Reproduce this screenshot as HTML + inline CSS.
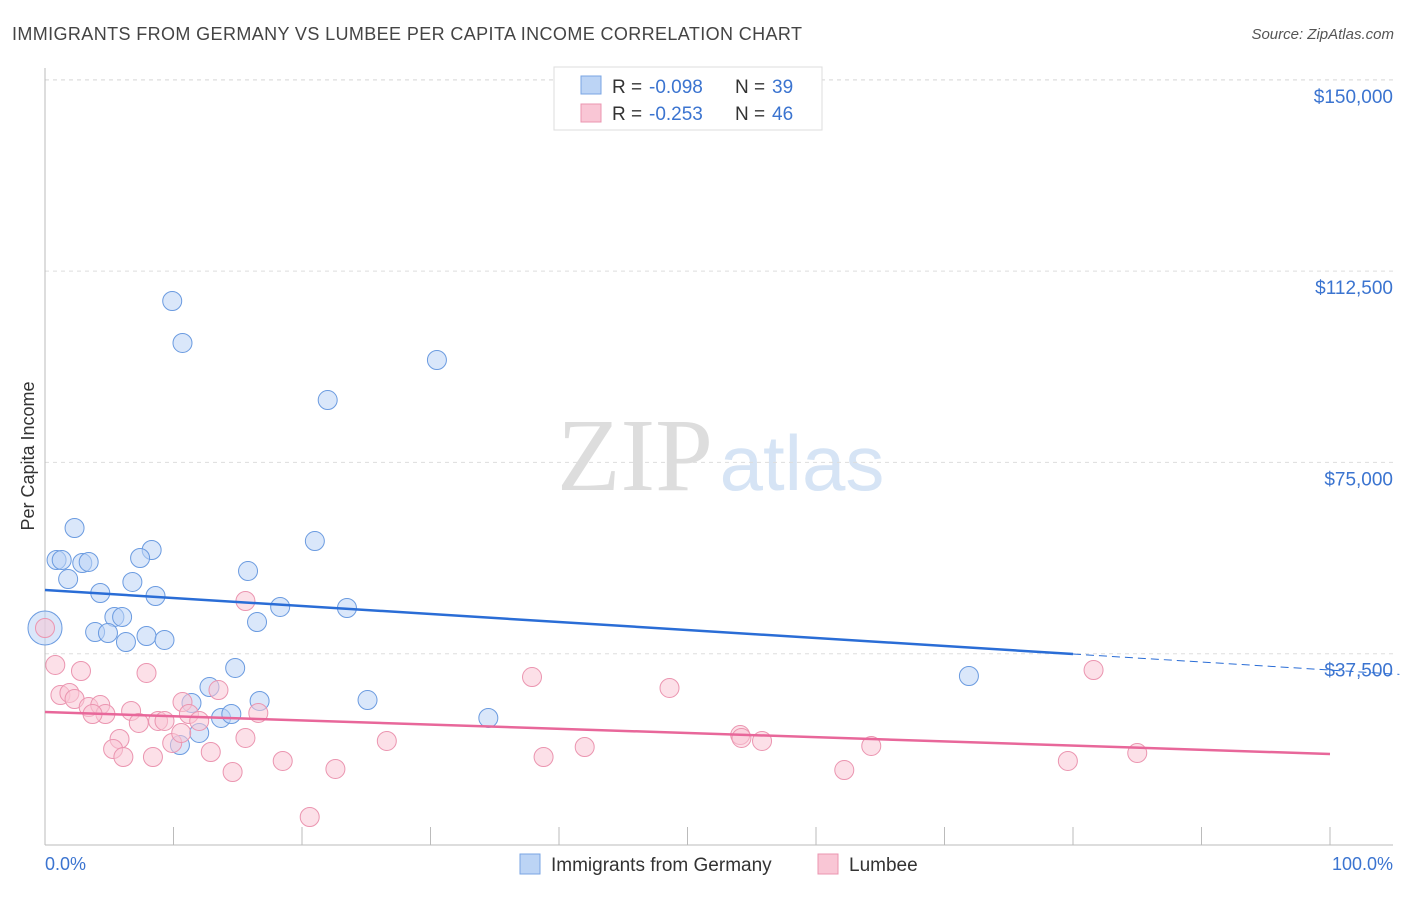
<!DOCTYPE html>
<html><head><meta charset="utf-8"><style>
body{margin:0;background:#fff;font-family:"Liberation Sans",sans-serif}
svg text{font-family:"Liberation Sans",sans-serif}
</style></head><body>
<svg width="1406" height="892" viewBox="0 0 1406 892" xmlns="http://www.w3.org/2000/svg" id="c">
<text x="12" y="40" font-size="18" fill="#444" textLength="790">IMMIGRANTS FROM GERMANY VS LUMBEE PER CAPITA INCOME CORRELATION CHART</text>
<text x="1394" y="39" font-size="15" fill="#555" text-anchor="end" font-style="italic">Source: ZipAtlas.com</text>
<g>
<text x="635" y="490" font-size="104" fill="#ddd" text-anchor="middle" style="font-family:'Liberation Serif',serif">ZIP</text>
<text x="802" y="490" font-size="78" fill="#d6e4f5" text-anchor="middle">atlas</text></g>
<g id="grid"></g>
<line x1="45" y1="68" x2="45" y2="845" stroke="#bbb"/>
<line x1="45" y1="845" x2="1393" y2="845" stroke="#bbb"/>
<g id="ticks"></g>
<text transform="translate(34,456) rotate(-90)" font-size="18" fill="#333" text-anchor="middle">Per Capita Income</text>
<text x="45" y="870" font-size="18" fill="#3b74d0">0.0%</text>
<text x="1393" y="870" font-size="18" fill="#3b74d0" text-anchor="end">100.0%</text>
<g id="pts"></g>
<g id="lines"></g>
<g>
<rect x="554" y="67" width="268" height="63" fill="#fff" stroke="#ddd"/>
<rect x="581" y="76" width="20" height="18" fill="#bcd4f5" stroke="#7aa5e3"/>
<rect x="581" y="104" width="20" height="18" fill="#f9c6d5" stroke="#eb95b0"/>
<text x="612" y="93" font-size="19" fill="#333">R =</text>
<text x="649" y="93" font-size="19" fill="#3b74d0">-0.098</text>
<text x="735" y="93" font-size="19" fill="#333">N =</text>
<text x="772" y="93" font-size="19" fill="#3b74d0">39</text>
<text x="612" y="120" font-size="19" fill="#333">R =</text>
<text x="649" y="120" font-size="19" fill="#3b74d0">-0.253</text>
<text x="735" y="120" font-size="19" fill="#333">N =</text>
<text x="772" y="120" font-size="19" fill="#3b74d0">46</text>
</g>
<g>
<rect x="520" y="854" width="20" height="20" fill="#bcd4f5" stroke="#7aa5e3"/>
<text x="551" y="871" font-size="19" fill="#333">Immigrants from Germany</text>
<rect x="818" y="854" width="20" height="20" fill="#f9c6d5" stroke="#eb95b0"/>
<text x="849" y="871" font-size="19" fill="#333">Lumbee</text>
</g>
</svg>
<script>
const yTicks=[37500,75000,112500,150000];
const yTickLabels=["$37,500","$75,000","$112,500","$150,000"];
const xTicks=[0,10,20,30,40,50,60,70,80,90,100];
const germanyX=[9.9,10.7,30.5,22.0,2.3,21.0,0.9,1.3,2.9,3.4,8.3,7.4,1.8,6.8,15.8,4.3,8.6,18.3,23.5,5.4,6.0,16.5,3.9,4.9,7.9,9.3,6.3,14.8,12.8,25.1,16.7,11.4,34.5,13.7,14.5,12.0,10.5,71.9,0];
const germanyY=[106640,98410,95075,87230,62140,59590,55870,55870,55280,55480,57830,56260,52140,51560,53710,49400,48810,46660,46460,44700,44700,43710,41750,41560,40970,40190,39790,34700,30970,28420,28230,27840,24900,24900,25680,21960,19600,33130,42540];
const lumbeeX=[0,0.8,2.8,7.9,15.6,37.9,48.6,81.6,1.2,1.9,2.3,3.4,4.3,4.7,3.7,6.7,7.3,8.8,9.3,10.7,11.2,12.0,13.5,16.6,5.8,5.3,6.1,8.4,9.9,10.6,12.9,15.6,14.6,18.5,22.6,26.6,38.8,42.0,54.1,54.2,55.8,62.2,64.3,79.6,85.0,20.6];
const lumbeeY=[42540,35290,34110,33720,47830,32930,30780,34300,29400,29800,28620,27050,27440,25680,25680,26270,23920,24310,24310,28030,25680,24310,30380,25880,20780,18820,17250,17250,20000,21960,18230,20980,14310,16470,14900,20390,17250,19210,21560,20980,20390,14700,19410,16470,18030,5490];
const germanyTrend=[[0,49990],[80,37440]];
const germanyTrendExt=[[80,37440],[105.4,33440]];
const lumbeeTrend=[[0,26070],[100,17840]];
const sx=v=>45+v*12.85, sy=v=>845-v/196.03;
const NS="http://www.w3.org/2000/svg";
function mk(t,a,p){const e=document.createElementNS(NS,t);for(const k in a)e.setAttribute(k,a[k]);document.getElementById(p).appendChild(e);return e;}
yTicks.forEach((v,i)=>{
 const l=mk('line',{x1:45,x2:1393,y1:sy(v),y2:sy(v),stroke:'#ddd','stroke-dasharray':'4,4'},'grid');
 
 
 const t=mk('text',{x:1393,y:sy(v)+23,'font-size':19,fill:'#3b74d0','text-anchor':'end'},'ticks');
 t.textContent=yTickLabels[i];
 
 
});
{const l=mk('line',{x1:45,x2:1393,y1:80,y2:80,stroke:'#ddd','stroke-dasharray':'4,4'},'grid');
 
 }
xTicks.forEach(v=>{
 const l=mk('line',{x1:sx(v),x2:sx(v),y1:827,y2:845,stroke:'#bbb'},'ticks');
 
 
});
function pts(X,Y,fill,stroke,name){X.forEach((x,i)=>{
 const big=(x===0&&Y[i]===42540);
 const c=mk('circle',{cx:sx(x),cy:sy(Y[i]),r:big?(name==='germany-point'?17:9.5):9.5,fill:fill,'fill-opacity':0.55,stroke:stroke,'stroke-width':1},'pts');
 
 
});}
pts(germanyX,germanyY,'#bcd4f5','#6b9be0','germany-point');
pts(lumbeeX,lumbeeY,'#f9c6d5','#eb95b0','lumbee-point');
function ln(p,col,dash,name){const l=mk('line',{x1:sx(p[0][0]),y1:sy(p[0][1]),x2:sx(p[1][0]),y2:sy(p[1][1]),stroke:col,'stroke-width':dash?1:2.5,'stroke-dasharray':dash?'8,5':'none'},'lines');
 
 }
ln(germanyTrend,'#2a6dd6',false,'germany-trend-line');
ln(germanyTrendExt,'#2a6dd6',true,'germany-trend-extension');
ln(lumbeeTrend,'#e8679a',false,'lumbee-trend-line');
</script>
</body></html>
